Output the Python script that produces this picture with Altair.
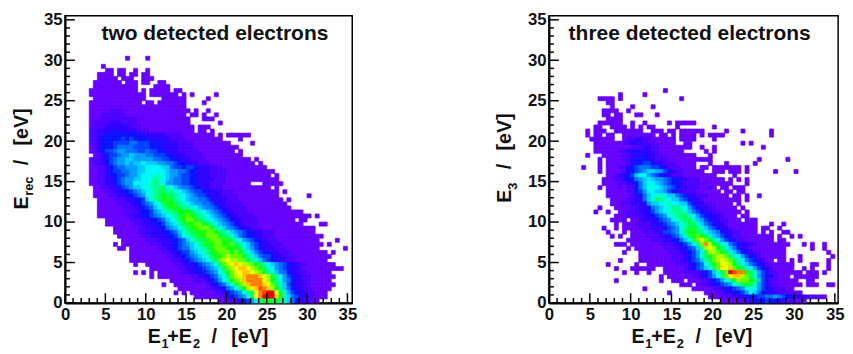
import altair as alt
import pandas as pd

FONT = "Liberation Sans"
LEVELS = "123456789abcdefghijk"
PALETTE = ["#6600ff", "#4c00ff", "#2e00ff", "#0a10ff", "#0040ff", "#0070ff", "#009cff", "#00ccff",
           "#00f6ff", "#00ffc8", "#00ff96", "#00ff5a", "#10ff10", "#60ff00", "#a8ff00", "#f0ff00",
           "#ffc800", "#ff8000", "#ff4000", "#e80000"]

# (first 0.5 eV bin, levels per bin) for each E-row, top row first; '.' = empty bin
TOP_A = 60
ROWS_A = [
 (15,"1....1"),
 (0,""),
 (9,"1"),
 (10,"11.11..1..1"),
 (8,"1111.11.11.11"),
 (8,"11111.111..111"),
 (7,"1111111.111.11..11"),
 (7,"11111111111....1111"),
 (6,"111111111111.1.11111.11"),
 (6,"11111111111111.1111111.1.1.....1"),
 (7,"1111111111111....111111.....1"),
 (6,"1111111111111.11.1111111....1"),
 (6,"111111111111111111111111"),
 (6,"1111122211111111111111111.1..1"),
 (6,"111222222111111111111111.11.1..1"),
 (6,"1112222222221111111111111...111"),
 (6,"1222233322221111111111111.......1"),
 (6,"12223333332221111111111111.111"),
 (6,"22333343333322211111111111.11.1"),
 (6,"2233 4444 444 4433 3333 2222 1111111 1.1.111111"),
 (6,"2234 4444 5454 4443 3333 2222 11111111 1....1"),
 (6,"2234 4455 5566 5554 4433 3322 22111111 111.....1"),
 (6,"1234 4456 6665 5554 4433 3322 2211111111111"),
 (6,"1234 5567 7666 5565 5443 3322 2221111 11111 .1"),
 (7,"123 4556 7787 7766 5554 4333 2222 1111 111111"),
 (6,"1223 4567 7887 7777 6655 4433 3222 2111 11111111 .1"),
 (6,"1223 4567 7878 8988 8776 6544 3332 2211 11111111 1.1"),
 (6,"1122 3456 6777 8899 9988 6554 5543 3322 2111 11111111"),
 (6,"1122 3455 6677 8899 9998 7766 5443 3322 2211 1111111111"),
 (6,"1122 3445 5677 8999 aa98 7765 5443 3322 2211 111111111 .1"),
 (6,"1122 3345 6778 899a ba98 7665 5443 3332 2211 11111111111"),
 (6,"1122 3345 6779 999a ca97 7665 5443 3322 2211 1111 ... 11111"),
 (7,"112 2334 5678 89aa bbca 9876 6544 3322 2111 111111111 .1"),
 (7,"111 2233 4456 789a bccb ba98 7655 4433 3222 1111 1111111 .1"),
 (7,"111 1223 3445 679a bcdc cba9 8765 5433 3222 2111 1111111 .......1"),
 (8,"11 1122 2334 458a bcdd cba9 8776 6543 3322 2111 11111111 .1"),
 (8,"11 1112 2233 4567 9acd dcba 9877 6654 3322 2211 111111111"),
 (8,"11 1111 2223 3456 89bc ddcb ba98 7665 4332 2221 1111111111"),
 (8,"11 1111 1222 3445 789b bcdd dcba 9876 5433 2221 111111111111 1"),
 (8,"11 1111 1223 3445 6789 abcd edcb a987 6543 3222 2111 1111111111 1.1"),
 (10,"1111 1122 2334 4568 9acd eedc ba98 7654 3322 2211 1111111 .11"),
 (10,"1111 1112 2333 4457 89bc ddee dcb9 8765 4322 2211 11111111 1....11"),
 (12,"11 1111 2233 3446 789b cdde eedb a876 5433 2221 11111111 1111"),
 (12,"11 1111 2233 3344 568a bcdd deed cba8 7654 4332 2211 11111111"),
 (13,"1 1111 1223 3334 4579 abcd deee dcba 8654 4332 2211 1111111111"),
 (14,"1111 1122 2333 4456 8abc cdee eddc a976 5433 2221 11111111 1....1"),
 (12,"1. 1111 1112 2233 3456 789b cdde edde cb98 6543 3222 1111 111111 .1"),
 (13,"11. 11 1111 1223 3456 689a bcde eedd dca8 7543 3322 2111 11111 ......1"),
 (16,"11 1111 1122 3345 5789 abdd eeed edba 8654 4332 2211 1111111 .1"),
 (16,"11 1111 1112 2334 5678 9acd defe eedb a865 5433 2221 1111111 1"),
 (16,"11 1111 1111 2233 4567 89bc efgf feec ba86 5433 3221 1111111"),
 (17,"1.. 11 1111 1223 3345 6789 cefg hgff edcb 9876 5433 2211111 11"),
 (21,"11 111 1122 3344 5678 acef ghhg fedc a976 5433 211111 1111 1"),
 (17,"1.1.1. 1 11 1112 2334 4567 9bde gghh gfed ba86 6433 2211 1111"),
 (21,"1. 1 11 1111 1223 3456 89ce fghi iihg fdb9 7543 3221 11111"),
 (26,"1111 1122 2345 79bd efhi iiig fdba 7643 3221 1111"),
 (24,"1.. 1 11 1111 1234 568a cefh iiih geca 8543 3221 11111"),
 (28,"11 1111 1223 3467 9bdf ghji hfdb 8643 3221 1111"),
 (27,"1.1. 1 11 1112 2345 679b cgij kkgd a754 3322 111"),
 (32,"11 1111 2234 5679 cgik kkhd a865 3322 111"),
 (38,"1112 2345 79bd dcdb a864 32211"),
]

TOP_B = 52
ROWS_B = [
 (28,"1"),
 (17,"1.....1"),
 (12,"1111.1..............1"),
 (14,"11"),
 (15,"1....1....1"),
 (13,"1111..1"),
 (13,"11.11...11...1"),
 (14,"1111"),
 (12,"111111 .. 1 .. 1 ..... 1 . 11111"),
 (11,"11 .. 1111 . 1 . 1 . 11 ..... 1 ........ 1"),
 (9,"1.111..1111111..111.11.111111.....1...1......1"),
 (9,"1.11.11..11111111.11.1.1111.1.1111...........1"),
 (10,"111111 .. 122332211 1111 . 1111 .... 1"),
 (11,"1111111 223 3322 21 1111 .. 11 ............ 1 . 1"),
 (11,"111111111222332211111111..1..1...........1"),
 (11,"1111112233433322111111.....1.1"),
 (9,"1...11111223334332211111111...1"),
 (12,"1.11112234443322211111111111...........1......1"),
 (12,"1.1111123445543322211111...1...1......1"),
 (8,"1...1.1112234566655432221111.11.1111111.1"),
 (12,"1.111123456788775432211111..111.111.1......1....1"),
 (14,"11 23 34 5 8 99 76 54 33 22 2111 11111 ....1"),
 (13,"111 22 344 67 89 87 76 54 43 32 22 111 11 1.1.1.1"),
 (13,"111 12 233 46 89 98 76 54 43 22 22 121 1111 1...1"),
 (12,"1 . 11 12 122 46 89 a9 87 65 43 32 22 112 1.11.1 11"),
 (14,"11 11 122 45 79 98 87 54 33 22 21 111 11.1 1.11"),
 (14,"1 1 11 112 34 68 9a a9 88 65 43 32 22 111 11.1 1.1..1"),
 (15,"11 11 22 33 68 ac ba 98 86 54 33 21 111 1111 1.1"),
 (15,"111 22 33 34 78 89 aa 99 88 54 33 22 1111 1.1"),
 (12,"1... 11 11 22 33 46 78 9a bb a9 75 43 32 2111 11.1"),
 (11,"1..1.. 11 22 23 34 57 89 ab bb a8 65 43 32 2111 11.1"),
 (16,"11 1 22 22 33 45 67 9a bc ca 97 54 43 3211 1.11"),
 (15,"1111 . 11 23 33 45 67 9a bc ca 87 54 33 2211 1.111"),
 (16,"1. 11 12 22 23 34 56 78 ab cc a8 65 43 3211 1111 1...1..1"),
 (13,"1..1. 11 11 22 23 33 45 67 9b cd ba 86 54 3321 1111 1.11..1"),
 (14,"1...1. 11 12 22 33 55 67 9c dd cb 98 76 4332 2111 1.1.1..11"),
 (15,"1.1.. 11 11 22 23 34 56 8a cd ed ca 87 5432 2111 11111 .1.. 1.1"),
 (19,"1 11 11 12 22 33 44 68 ac eg ed b9 7543 2211 11111 .11"),
 (16,"111. 11 11 11 12 22 33 45 79 be if dc a9 65 43 32 2111 1111 1...1.1..1"),
 (19,"1. 11 11 11 12 22 33 45 68 bf gf dc a86 43 32 111111 11 ...... 1 .. 1"),
 (18,"1... 11 11 11 12 22 33 45 79 cf fe dc a8 64 33 22111 111 .......... 1"),
 (22,"1 11 11 11 12 22 34 57 ac de ff ec a97 54 32111 111 ...1 ....... 1"),
 (17,"1.... 11 11 11 11 22 23 45 68 bc ef gf ec a9 65 432 11 . 11 . 1 . 1 ...... 1"),
 (14,"1......1.. 11 11 11 12 22 34 56 9b de gg fd ba 86 543 21111 11 .... 11 .. 1"),
 (16,"1...11 1111 .. 11111 2 34 56 89 ce gg he dc a9 754 3211 111 ..1.1...1"),
 (18,"1..1..1... 11 11 12 22 23 45 8a ce kj ii dc a75 3221 11111 . 111 . 1"),
 (27,"1. 11 1 11 12 23 45 79 be gh hf ec a75 4321 11 . 111111"),
 (16,"1 .......... 1 .. 111 . 11 12 23 45 79 bd fe ed c85 3221 111 1 .. 11"),
 (32,"111 . 12 23 34 56 79 bc dc a75 3221 1111 1 . 111 .. 11"),
 (23,"1 ........... 11 11 12 23 44 56 79 a9 75 4322 211"),
 (29,"1........ 11 12 23 34 45 79 86 43 33 222 111"),
 (39,"11122233344455667654433322211"),
 (42,"111112233445443322111"),
]

TICK_VALUES = [0, 5, 10, 15, 20, 25, 30, 35]
MINOR_VALUES = [v for v in range(0, 36) if v % 5]
BIN = 0.5
H = 292


def cells(rows, top):
    out = []
    for k, (start, s) in enumerate(rows):
        j = top - k
        for i, ch in enumerate(s.replace(" ", "")):
            if ch != "." and start + i < 71:
                b = start + i
                out.append(dict(x0=b * BIN, x1=(b + 1) * BIN, y0=j * BIN, y1=(j + 1) * BIN, v=ch))
    return pd.DataFrame(out)


def text(s, x, y, size, angle=0):
    return alt.Chart(pd.DataFrame({"t": [s]})).mark_text(
        font=FONT, fontWeight="bold", fontSize=size, align="left", baseline="alphabetic",
        angle=angle, color="#111111"
    ).encode(x=alt.value(x), y=alt.value(y), text="t:N")


def panel(rows, top, width, xmax, title, title_x, xt, yt):
    xs = alt.Scale(domain=[0, xmax], nice=False, zero=False)
    ys = alt.Scale(domain=[0, 35.5], nice=False, zero=False)
    color = alt.Scale(domain=list(LEVELS), range=PALETTE)
    xaxis = alt.Axis(values=TICK_VALUES, title=None, ticks=False, grid=False, labelFont=FONT,
                     labelFontWeight="bold", labelFontSize=17, labelColor="#111111", domainColor="black",
                     domainWidth=2, labelPadding=4, labelFlush=False, labelOverlap=False)
    yaxis = alt.Axis(values=TICK_VALUES, title=None, ticks=False, grid=False, labelFont=FONT,
                     labelFontWeight="bold", labelFontSize=17, labelColor="#111111", domainColor="black",
                     domainWidth=2, labelPadding=3, labelFlush=False, labelOverlap=False)
    heat = alt.Chart(cells(rows, top)).mark_rect(strokeWidth=0.7).encode(
        x=alt.X("x0:Q", scale=xs, axis=xaxis),
        x2="x1:Q",
        y=alt.Y("y0:Q", scale=ys, axis=yaxis),
        y2="y1:Q",
        color=alt.Color("v:N", scale=color, legend=None),
        stroke=alt.Stroke("v:N", scale=color, legend=None),
    )
    major = pd.DataFrame({"v": TICK_VALUES})
    minor = pd.DataFrame({"v": MINOR_VALUES})
    layers = [heat]
    for df, length in ((major, 10), (minor, 5)):
        layers.append(alt.Chart(df).mark_rule(color="black", strokeWidth=1.5).encode(
            x=alt.X("v:Q", scale=xs, axis=xaxis), y=alt.value(H), y2=alt.value(H - length)))
        layers.append(alt.Chart(df).mark_rule(color="black", strokeWidth=1.5).encode(
            y=alt.Y("v:Q", scale=ys, axis=yaxis), x=alt.value(0), x2=alt.value(length)))
    layers.append(text(title, title_x, 25, 21.3))
    layers += [text(*p) for p in xt]
    layers += [text(*p) for p in yt]
    return alt.layer(*layers).properties(width=width, height=H)


XT = [("E", 84, 333, 20), ("1", 98, 338, 13), ("+E", 104, 333, 20), ("2", 130, 338, 13),
      ("/", 149, 333, 20), ("[eV]", 169, 333, 20)]
left = panel(ROWS_A, TOP_A, 292, 35.6, "two detected electrons", 37, XT,
             [("E", -38, 197, 20, 270), ("rec", -33, 183, 13, 270), ("/", -38, 152, 20, 270),
              ("[eV]", -38, 132, 20, 270)])
right = panel(ROWS_B, TOP_B, 294, 35.4, "three detected electrons", 20, XT,
              [("E", -39, 190, 20, 270), ("3", -32, 177, 13, 270), ("/", -39, 156, 20, 270),
               ("[eV]", -39, 137, 20, 270)])

chart = alt.hconcat(left, right, spacing=138).properties(
    padding={"left": 3, "top": -1, "right": 0, "bottom": 0}, background="white"
).configure_view(stroke="black", strokeWidth=1.5)
chart.save("out.html", embed_options={"renderer": "svg", "actions": False})
